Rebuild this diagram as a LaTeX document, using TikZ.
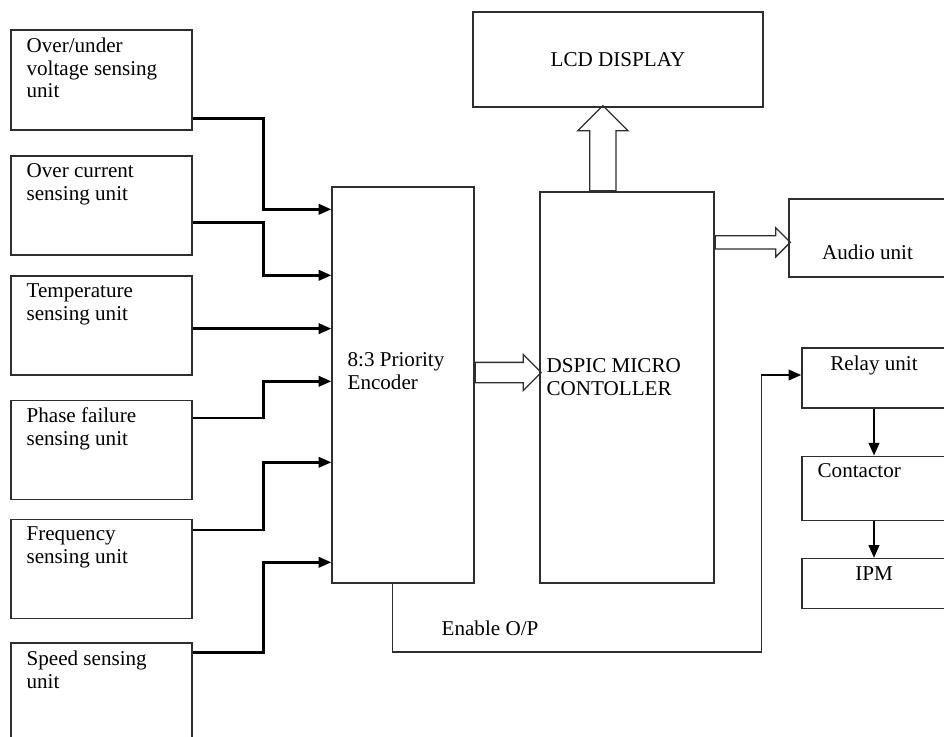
\documentclass[tikz,border=0pt]{standalone}
\usepackage{fontspec}
\setmainfont{Liberation Serif}
\usepackage{tikz}
\usetikzlibrary{arrows.meta,positioning,calc,shapes.arrows}
\definecolor{edgegray}{HTML}{2E2E2E}
\tikzset{
  sensebox/.style={
    draw=edgegray,
    line width=0.9pt,
    minimum width=4.525cm,
    minimum height=2.475cm,
    inner sep=0pt
  },
  blockbox/.style={
    draw=edgegray,
    line width=0.9pt,
    inner sep=0pt
  },
  boxtext/.style={
    font=\fontsize{15}{16.2}\selectfont,
    align=left,
    inner sep=0pt
  },
  topleft/.style={label={[boxtext,anchor=north west,xshift=0.4cm,yshift=-0.2cm]north west:{#1}}},
  topmid/.style={label={[boxtext,anchor=north,yshift=-0.2cm]north:{#1}}},
  sigarrow/.style={-{Triangle[length=3.2mm,width=2.6mm]}, line width=1.9pt},
  enableline/.style={draw=edgegray, line width=0.9pt},
  busarrow/.style={
    single arrow,
    draw=edgegray,
    line width=0.9pt,
    inner xsep=0pt
  }
}

\begin{document}
\begin{tikzpicture}[x=0.025cm, y=-0.025cm, node distance=1cm]
  \useasboundingbox (0,0) rectangle (944,736);

  % sensing units
  \node[sensebox,minimum height=2.5cm,topleft={Over/under\\voltage sensing\\unit}] (volt) at (101.5,80) {};
  \node[sensebox,topleft={Over current\\sensing unit}] (curr) at (101.5,205.5) {};
  \node[sensebox,topleft={Temperature\\sensing unit}] (temp) at (101.5,325.5) {};
  \node[sensebox,topleft={Phase failure\\sensing unit}] (phase) at (101.5,450) {};
  \node[sensebox,topleft={Frequency\\sensing unit}] (freq) at (101.5,569) {};
  \node[sensebox,minimum height=2.55cm,topleft={Speed sensing\\unit}] (speed) at (101.5,694) {};

  % encoder and controller
  \node[blockbox,minimum width=3.55cm,minimum height=9.9cm,
    label={[boxtext,anchor=west,xshift=0.4cm,yshift=0.35cm]west:{8:3 Priority\\Encoder}}] (enc) at (403,385) {};
  \node[blockbox,minimum width=4.35cm,minimum height=9.775cm,
    label={[boxtext,anchor=west,xshift=0.175cm,yshift=0.26cm]west:{DSPIC MICRO\\CONTOLLER}}] (dsp) at (627,387.5) {};
  \node[blockbox,boxtext,minimum width=7.25cm,minimum height=2.375cm] (lcd) at (618,59.5) {LCD DISPLAY};
  \node[blockbox,minimum width=3.925cm,minimum height=1.95cm,
    label={[boxtext,yshift=-0.35cm]center:Audio unit}] (audio) at (867.5,238) {};

  % relay chain
  \node[blockbox,minimum width=3.6cm,minimum height=1.5cm,topmid={Relay unit}] (relay) at (874,378) {};
  \node[blockbox,minimum width=3.6cm,minimum height=1.6cm,below=1.175cm of relay,topleft={Contactor}] (contactor) {};
  \node[blockbox,minimum width=3.6cm,minimum height=1.25cm,below=0.925cm of contactor,topmid={IPM}] (ipm) {};

  \draw[sigarrow] ($(volt.south east)+(0,-12)$) -- ++(71,0) |- ($(enc.north west)+(0,23)$);
  \draw[sigarrow] ($(curr.south east)+(0,-33)$) -- ++(71,0) |- ($(enc.north west)+(0,89)$);
  \draw[sigarrow] ($(temp.south east)+(0,-47)$) coordinate (t0) -- (t0 -| enc.west);
  \draw[sigarrow] ($(phase.north east)+(0,18)$) -- ++(71,0) |- ($(enc.north west)+(0,195)$);
  \draw[sigarrow] ($(freq.north east)+(0,11)$) -- ++(71,0) |- ($(enc.north west)+(0,276)$);
  \draw[sigarrow] ($(speed.north east)+(0,10)$) -- ++(71,0) |- ($(enc.north west)+(0,376)$);

  % wide data paths
  \node[busarrow,minimum height=1.65cm,inner ysep=0.2375cm,single arrow head extend=0.2cm,anchor=tail] (bus1) at ($(enc.east)+(0,-12.5)$) {};
  \node[busarrow,minimum height=1.875cm,inner ysep=0.15cm,single arrow head extend=0.2cm,anchor=tail] (bus2) at ($(dsp.north east)+(0,51)$) {};
  \node[busarrow,rotate=90,minimum height=2.125cm,inner ysep=0.3125cm,single arrow head extend=0.3cm,anchor=tail] (bus3) at ($(dsp.north west)+(63.5,0)$) {};

  % enable output
  \coordinate (encorner) at ($(relay.west)+(-40,-3)$);
  \draw[enableline] ($(enc.south west)+(61,0)$) |- ($(encorner)+(0,277)$) -- (encorner);
  \draw[sigarrow] (encorner) -- ($(relay.west)+(0,-3)$);
  \node[boxtext] (enable) at (490,628) {Enable O/P};

  \draw[sigarrow] (relay) -- (contactor);
  \draw[sigarrow] (contactor) -- (ipm);
\end{tikzpicture}
\end{document}
